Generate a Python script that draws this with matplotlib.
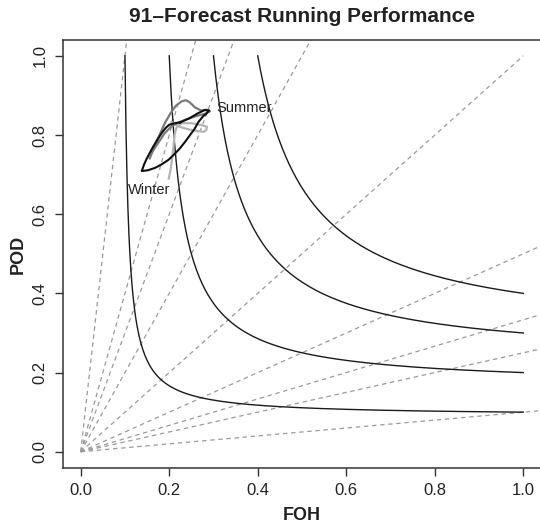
import numpy as np
import matplotlib
matplotlib.use("Agg")
import matplotlib.pyplot as plt

plt.rcParams['font.family'] = ['Liberation Sans', 'DejaVu Sans']

# reference lines of the performance diagram
csi_levels = [0.1, 0.2, 0.3, 0.4]
bias_levels = [0.1, 0.25, 1 / 3, 0.5, 1, 2, 3, 4, 10]

# running performance tracks (FOH, POD)
black_foh = [0.225, 0.213, 0.200, 0.192, 0.183, 0.173, 0.164, 0.157, 0.149, 0.143, 0.138,
             0.152, 0.168, 0.183, 0.198, 0.211, 0.224, 0.236, 0.247, 0.257, 0.266, 0.277,
             0.283, 0.290, 0.280, 0.265, 0.245, 0.225]
black_pod = [0.832, 0.830, 0.826, 0.818, 0.805, 0.788, 0.771, 0.757, 0.740, 0.725, 0.709,
             0.711, 0.717, 0.726, 0.737, 0.751, 0.766, 0.783, 0.800, 0.815, 0.833, 0.848,
             0.853, 0.862, 0.863, 0.855, 0.842, 0.832]

dgray_foh = [0.156, 0.165, 0.178, 0.190, 0.203, 0.215, 0.228, 0.238, 0.247, 0.258, 0.272,
             0.285, 0.292, 0.282, 0.268, 0.253, 0.235, 0.218, 0.205, 0.190, 0.175, 0.163]
dgray_pod = [0.741, 0.766, 0.800, 0.830, 0.855, 0.874, 0.885, 0.888, 0.882, 0.870, 0.862,
             0.864, 0.860, 0.854, 0.850, 0.845, 0.838, 0.830, 0.822, 0.805, 0.780, 0.760]

lgray_foh = [0.199, 0.203, 0.207, 0.210, 0.212, 0.216, 0.228, 0.250, 0.273, 0.285, 0.284,
             0.278, 0.262, 0.245, 0.228, 0.215, 0.205]
lgray_pod = [0.690, 0.712, 0.745, 0.775, 0.800, 0.818, 0.830, 0.830, 0.825, 0.821, 0.813,
             0.808, 0.810, 0.814, 0.819, 0.826, 0.833]

fig = plt.figure(figsize=(5.4, 5.28), dpi=100)
ax = fig.add_axes([63 / 540, 1 - 467.6 / 528, (541 - 63) / 540, (467.6 - 40) / 528])

# bias lines
for b in bias_levels:
    if b == 1:
        xs = np.array([0, 1])
    else:
        xs = np.array([0, 1.2])
    ax.plot(xs, b * xs, color='#9a9a9a', lw=0.9, ls=(0, (3.5, 3)), zorder=1)

# CSI isolines
for c in csi_levels:
    sr = np.linspace(c, 1, 400)
    pod = 1 / (1 / c + 1 - 1 / sr)
    ax.plot(sr, pod, color='#1a1a1a', lw=1.0, zorder=2)

ax.plot(lgray_foh, lgray_pod, color='#b4b4b4', lw=1.6, zorder=3)
ax.plot(dgray_foh, dgray_pod, color='#7a7a7a', lw=1.6, zorder=4)
ax.plot(black_foh, black_pod, color='#111111', lw=1.5, zorder=5)

ax.text(0.155, 0.66, 'Winter', fontsize=10.5, ha='center', va='center', color='#222222')
ax.text(0.37, 0.868, 'Summer', fontsize=10.5, ha='center', va='center', color='#222222')

ax.set_xlim(-0.04, 1.04)
ax.set_ylim(-0.04, 1.04)
ticks = [0.0, 0.2, 0.4, 0.6, 0.8, 1.0]
ax.set_xticks(ticks)
ax.set_yticks(ticks)
ax.set_xticklabels(['%.1f' % t for t in ticks])
ax.set_yticklabels(['%.1f' % t for t in ticks], rotation=90, va='center')
ax.tick_params(length=6, width=1, colors='#333333', labelsize=12, pad=5)
ax.tick_params(axis='both', labelcolor='#222222')
for s in ax.spines.values():
    s.set_color('#333333')
    s.set_linewidth(1.1)

fig.text(302 / 540, 1 - 17 / 528, '91\u2013Forecast Running Performance', fontsize=15,
         fontweight='bold', ha='center', va='center', color='#222222')
fig.text(302 / 540, 1 - 516 / 528, 'FOH', fontsize=13, fontweight='bold',
         ha='center', va='center', color='#222222')
fig.text(18 / 540, 1 - 254 / 528, 'POD', fontsize=13, fontweight='bold',
         ha='center', va='center', rotation=90, color='#222222')

fig.savefig('out.png', dpi=100)
